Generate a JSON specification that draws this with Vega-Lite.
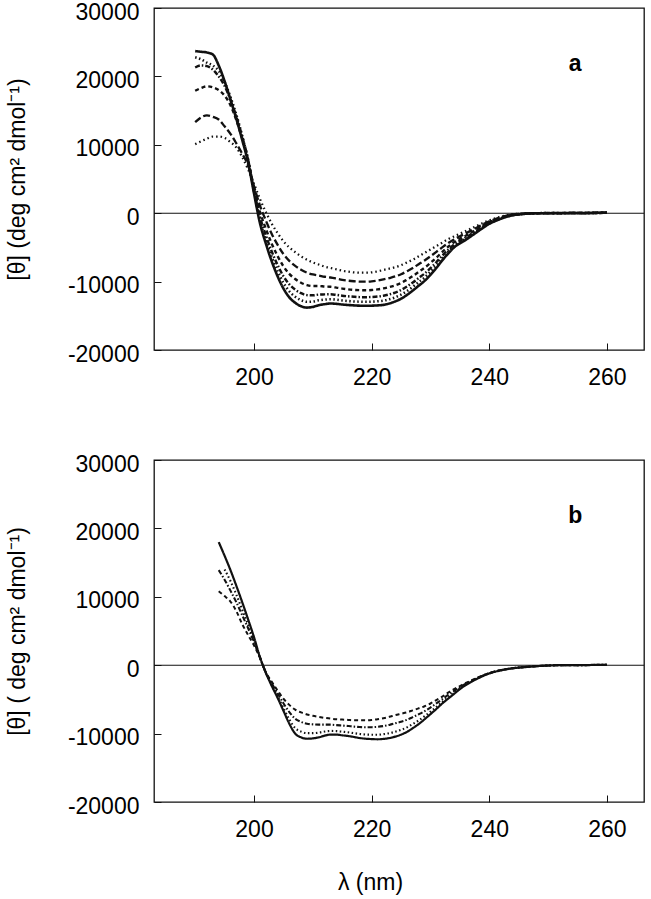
{
  "$schema": "https://vega.github.io/schema/vega-lite/v6.json",
  "padding": {"left": 5, "top": 0, "right": 8, "bottom": 2},
  "spacing": 62,
  "config": {
    "font": "Liberation Sans",
    "view": {"stroke": "#111", "strokeWidth": 1.3},
    "axis": {"grid": false, "domain": false, "tickColor": "#111", "tickSize": -7, "tickWidth": 1, "labelFont": "Liberation Sans", "labelFontSize": 23, "labelColor": "black", "titleFont": "Liberation Sans", "titleFontSize": 23, "titleFontWeight": "normal", "titleColor": "black"}
  },
  "datasets": {
    "a": [
      {"s":"c1","x":190,"y":23700},{"s":"c1","x":191,"y":23600},{"s":"c1","x":192,"y":23500},{"s":"c1","x":193,"y":23200},{"s":"c1","x":194,"y":21600},{"s":"c1","x":195,"y":19300},{"s":"c1","x":196,"y":16600},{"s":"c1","x":197,"y":13800},{"s":"c1","x":198,"y":10700},{"s":"c1","x":199,"y":7400},{"s":"c1","x":200,"y":2900},{"s":"c1","x":201,"y":-1400},{"s":"c1","x":202,"y":-4400},{"s":"c1","x":203,"y":-7000},{"s":"c1","x":204,"y":-9200},{"s":"c1","x":205,"y":-11000},{"s":"c1","x":206,"y":-12300},{"s":"c1","x":207,"y":-13100},{"s":"c1","x":208,"y":-13600},{"s":"c1","x":209,"y":-13800},{"s":"c1","x":210,"y":-13700},{"s":"c1","x":211,"y":-13450},{"s":"c1","x":212,"y":-13300},{"s":"c1","x":213,"y":-13200},{"s":"c1","x":214,"y":-13250},{"s":"c1","x":215,"y":-13350},{"s":"c1","x":216,"y":-13420},{"s":"c1","x":217,"y":-13480},{"s":"c1","x":218,"y":-13520},{"s":"c1","x":219,"y":-13540},{"s":"c1","x":220,"y":-13520},{"s":"c1","x":221,"y":-13480},{"s":"c1","x":222,"y":-13400},{"s":"c1","x":223,"y":-13200},{"s":"c1","x":224,"y":-12900},{"s":"c1","x":225,"y":-12500},{"s":"c1","x":226,"y":-11950},{"s":"c1","x":227,"y":-11300},{"s":"c1","x":228,"y":-10600},{"s":"c1","x":229,"y":-9900},{"s":"c1","x":230,"y":-9000},{"s":"c1","x":231,"y":-8000},{"s":"c1","x":232,"y":-6900},{"s":"c1","x":233,"y":-5900},{"s":"c1","x":234,"y":-5000},{"s":"c1","x":235,"y":-4400},{"s":"c1","x":236,"y":-3900},{"s":"c1","x":237,"y":-3300},{"s":"c1","x":238,"y":-2700},{"s":"c1","x":239,"y":-2100},{"s":"c1","x":240,"y":-1550},{"s":"c1","x":241,"y":-1150},{"s":"c1","x":242,"y":-800},{"s":"c1","x":243,"y":-500},{"s":"c1","x":244,"y":-300},{"s":"c1","x":246,"y":-100},{"s":"c1","x":248,"y":0},{"s":"c1","x":250,"y":0},{"s":"c1","x":252,"y":0},{"s":"c1","x":254,"y":50},{"s":"c1","x":256,"y":0},{"s":"c1","x":258,"y":50},{"s":"c1","x":260,"y":100},
      {"s":"c2","x":190,"y":22800},{"s":"c2","x":191,"y":22500},{"s":"c2","x":192,"y":22000},{"s":"c2","x":193,"y":21600},{"s":"c2","x":194,"y":20800},{"s":"c2","x":195,"y":19200},{"s":"c2","x":196,"y":17000},{"s":"c2","x":197,"y":14400},{"s":"c2","x":198,"y":11300},{"s":"c2","x":199,"y":7800},{"s":"c2","x":200,"y":3300},{"s":"c2","x":201,"y":-980},{"s":"c2","x":202,"y":-3850},{"s":"c2","x":203,"y":-6340},{"s":"c2","x":204,"y":-8440},{"s":"c2","x":205,"y":-10170},{"s":"c2","x":206,"y":-11420},{"s":"c2","x":207,"y":-12210},{"s":"c2","x":208,"y":-12720},{"s":"c2","x":209,"y":-12960},{"s":"c2","x":210,"y":-12920},{"s":"c2","x":211,"y":-12740},{"s":"c2","x":212,"y":-12640},{"s":"c2","x":213,"y":-12580},{"s":"c2","x":214,"y":-12640},{"s":"c2","x":215,"y":-12760},{"s":"c2","x":216,"y":-12840},{"s":"c2","x":217,"y":-12900},{"s":"c2","x":218,"y":-12940},{"s":"c2","x":219,"y":-12960},{"s":"c2","x":220,"y":-12940},{"s":"c2","x":221,"y":-12880},{"s":"c2","x":222,"y":-12790},{"s":"c2","x":223,"y":-12590},{"s":"c2","x":224,"y":-12300},{"s":"c2","x":225,"y":-11910},{"s":"c2","x":226,"y":-11380},{"s":"c2","x":227,"y":-10760},{"s":"c2","x":228,"y":-10080},{"s":"c2","x":229,"y":-9410},{"s":"c2","x":230,"y":-8560},{"s":"c2","x":231,"y":-7620},{"s":"c2","x":232,"y":-6590},{"s":"c2","x":233,"y":-5650},{"s":"c2","x":234,"y":-4810},{"s":"c2","x":235,"y":-4230},{"s":"c2","x":236,"y":-3740},{"s":"c2","x":237,"y":-3170},{"s":"c2","x":238,"y":-2590},{"s":"c2","x":239,"y":-2020},{"s":"c2","x":240,"y":-1490},{"s":"c2","x":241,"y":-1100},{"s":"c2","x":242,"y":-760},{"s":"c2","x":243,"y":-480},{"s":"c2","x":244,"y":-280},{"s":"c2","x":246,"y":-90},{"s":"c2","x":248,"y":0},{"s":"c2","x":250,"y":20},{"s":"c2","x":252,"y":0},{"s":"c2","x":254,"y":30},{"s":"c2","x":256,"y":20},{"s":"c2","x":258,"y":40},{"s":"c2","x":260,"y":80},
      {"s":"c3","x":190,"y":21300},{"s":"c3","x":191,"y":21600},{"s":"c3","x":192,"y":21500},{"s":"c3","x":193,"y":21000},{"s":"c3","x":194,"y":20000},{"s":"c3","x":195,"y":18600},{"s":"c3","x":196,"y":16600},{"s":"c3","x":197,"y":14100},{"s":"c3","x":198,"y":11200},{"s":"c3","x":199,"y":7800},{"s":"c3","x":200,"y":3260},{"s":"c3","x":201,"y":-490},{"s":"c3","x":202,"y":-3200},{"s":"c3","x":203,"y":-5570},{"s":"c3","x":204,"y":-7560},{"s":"c3","x":205,"y":-9210},{"s":"c3","x":206,"y":-10400},{"s":"c3","x":207,"y":-11180},{"s":"c3","x":208,"y":-11700},{"s":"c3","x":209,"y":-11980},{"s":"c3","x":210,"y":-12010},{"s":"c3","x":211,"y":-11900},{"s":"c3","x":212,"y":-11870},{"s":"c3","x":213,"y":-11850},{"s":"c3","x":214,"y":-11940},{"s":"c3","x":215,"y":-12060},{"s":"c3","x":216,"y":-12150},{"s":"c3","x":217,"y":-12220},{"s":"c3","x":218,"y":-12270},{"s":"c3","x":219,"y":-12280},{"s":"c3","x":220,"y":-12250},{"s":"c3","x":221,"y":-12190},{"s":"c3","x":222,"y":-12070},{"s":"c3","x":223,"y":-11870},{"s":"c3","x":224,"y":-11600},{"s":"c3","x":225,"y":-11230},{"s":"c3","x":226,"y":-10720},{"s":"c3","x":227,"y":-10130},{"s":"c3","x":228,"y":-9480},{"s":"c3","x":229,"y":-8830},{"s":"c3","x":230,"y":-8040},{"s":"c3","x":231,"y":-7170},{"s":"c3","x":232,"y":-6220},{"s":"c3","x":233,"y":-5350},{"s":"c3","x":234,"y":-4580},{"s":"c3","x":235,"y":-4040},{"s":"c3","x":236,"y":-3560},{"s":"c3","x":237,"y":-3010},{"s":"c3","x":238,"y":-2470},{"s":"c3","x":239,"y":-1920},{"s":"c3","x":240,"y":-1420},{"s":"c3","x":241,"y":-1050},{"s":"c3","x":242,"y":-720},{"s":"c3","x":243,"y":-450},{"s":"c3","x":244,"y":-260},{"s":"c3","x":246,"y":-90},{"s":"c3","x":248,"y":-20},{"s":"c3","x":250,"y":0},{"s":"c3","x":252,"y":30},{"s":"c3","x":254,"y":0},{"s":"c3","x":256,"y":40},{"s":"c3","x":258,"y":30},{"s":"c3","x":260,"y":60},
      {"s":"c4","x":190,"y":17900},{"s":"c4","x":191,"y":18300},{"s":"c4","x":192,"y":18550},{"s":"c4","x":193,"y":18400},{"s":"c4","x":194,"y":18000},{"s":"c4","x":195,"y":17200},{"s":"c4","x":196,"y":15800},{"s":"c4","x":197,"y":13600},{"s":"c4","x":198,"y":10900},{"s":"c4","x":199,"y":7800},{"s":"c4","x":200,"y":3560},{"s":"c4","x":201,"y":250},{"s":"c4","x":202,"y":-2240},{"s":"c4","x":203,"y":-4420},{"s":"c4","x":204,"y":-6240},{"s":"c4","x":205,"y":-7760},{"s":"c4","x":206,"y":-8870},{"s":"c4","x":207,"y":-9620},{"s":"c4","x":208,"y":-10170},{"s":"c4","x":209,"y":-10510},{"s":"c4","x":210,"y":-10650},{"s":"c4","x":211,"y":-10650},{"s":"c4","x":212,"y":-10720},{"s":"c4","x":213,"y":-10760},{"s":"c4","x":214,"y":-10880},{"s":"c4","x":215,"y":-11020},{"s":"c4","x":216,"y":-11130},{"s":"c4","x":217,"y":-11210},{"s":"c4","x":218,"y":-11250},{"s":"c4","x":219,"y":-11270},{"s":"c4","x":220,"y":-11230},{"s":"c4","x":221,"y":-11140},{"s":"c4","x":222,"y":-11000},{"s":"c4","x":223,"y":-10800},{"s":"c4","x":224,"y":-10550},{"s":"c4","x":225,"y":-10200},{"s":"c4","x":226,"y":-9720},{"s":"c4","x":227,"y":-9190},{"s":"c4","x":228,"y":-8580},{"s":"c4","x":229,"y":-7970},{"s":"c4","x":230,"y":-7260},{"s":"c4","x":231,"y":-6500},{"s":"c4","x":232,"y":-5680},{"s":"c4","x":233,"y":-4910},{"s":"c4","x":234,"y":-4250},{"s":"c4","x":235,"y":-3740},{"s":"c4","x":236,"y":-3290},{"s":"c4","x":237,"y":-2780},{"s":"c4","x":238,"y":-2280},{"s":"c4","x":239,"y":-1770},{"s":"c4","x":240,"y":-1320},{"s":"c4","x":241,"y":-960},{"s":"c4","x":242,"y":-660},{"s":"c4","x":243,"y":-410},{"s":"c4","x":244,"y":-230},{"s":"c4","x":246,"y":-80},{"s":"c4","x":248,"y":0},{"s":"c4","x":250,"y":30},{"s":"c4","x":252,"y":0},{"s":"c4","x":254,"y":20},{"s":"c4","x":256,"y":50},{"s":"c4","x":258,"y":30},{"s":"c4","x":260,"y":80},
      {"s":"c5","x":190,"y":13300},{"s":"c5","x":191,"y":14000},{"s":"c5","x":192,"y":14300},{"s":"c5","x":193,"y":14100},{"s":"c5","x":194,"y":13700},{"s":"c5","x":195,"y":12700},{"s":"c5","x":196,"y":11600},{"s":"c5","x":197,"y":10200},{"s":"c5","x":198,"y":8700},{"s":"c5","x":199,"y":7000},{"s":"c5","x":200,"y":3920},{"s":"c5","x":201,"y":1160},{"s":"c5","x":202,"y":-1040},{"s":"c5","x":203,"y":-2990},{"s":"c5","x":204,"y":-4600},{"s":"c5","x":205,"y":-5960},{"s":"c5","x":206,"y":-6970},{"s":"c5","x":207,"y":-7700},{"s":"c5","x":208,"y":-8270},{"s":"c5","x":209,"y":-8690},{"s":"c5","x":210,"y":-8960},{"s":"c5","x":211,"y":-9110},{"s":"c5","x":212,"y":-9290},{"s":"c5","x":213,"y":-9400},{"s":"c5","x":214,"y":-9560},{"s":"c5","x":215,"y":-9740},{"s":"c5","x":216,"y":-9870},{"s":"c5","x":217,"y":-9950},{"s":"c5","x":218,"y":-10000},{"s":"c5","x":219,"y":-10010},{"s":"c5","x":220,"y":-9960},{"s":"c5","x":221,"y":-9840},{"s":"c5","x":222,"y":-9680},{"s":"c5","x":223,"y":-9480},{"s":"c5","x":224,"y":-9250},{"s":"c5","x":225,"y":-8920},{"s":"c5","x":226,"y":-8480},{"s":"c5","x":227,"y":-8020},{"s":"c5","x":228,"y":-7460},{"s":"c5","x":229,"y":-6910},{"s":"c5","x":230,"y":-6300},{"s":"c5","x":231,"y":-5660},{"s":"c5","x":232,"y":-5000},{"s":"c5","x":233,"y":-4370},{"s":"c5","x":234,"y":-3830},{"s":"c5","x":235,"y":-3380},{"s":"c5","x":236,"y":-2950},{"s":"c5","x":237,"y":-2500},{"s":"c5","x":238,"y":-2040},{"s":"c5","x":239,"y":-1590},{"s":"c5","x":240,"y":-1190},{"s":"c5","x":241,"y":-860},{"s":"c5","x":242,"y":-580},{"s":"c5","x":243,"y":-350},{"s":"c5","x":244,"y":-190},{"s":"c5","x":246,"y":-60},{"s":"c5","x":248,"y":0},{"s":"c5","x":250,"y":20},{"s":"c5","x":252,"y":40},{"s":"c5","x":254,"y":0},{"s":"c5","x":256,"y":30},{"s":"c5","x":258,"y":60},{"s":"c5","x":260,"y":50},
      {"s":"c6","x":190,"y":10100},{"s":"c6","x":191,"y":10500},{"s":"c6","x":192,"y":10900},{"s":"c6","x":193,"y":11200},{"s":"c6","x":194,"y":11200},{"s":"c6","x":195,"y":11000},{"s":"c6","x":196,"y":10400},{"s":"c6","x":197,"y":9600},{"s":"c6","x":198,"y":8200},{"s":"c6","x":199,"y":6400},{"s":"c6","x":200,"y":4300},{"s":"c6","x":201,"y":2100},{"s":"c6","x":202,"y":200},{"s":"c6","x":203,"y":-1500},{"s":"c6","x":204,"y":-2900},{"s":"c6","x":205,"y":-4100},{"s":"c6","x":206,"y":-5000},{"s":"c6","x":207,"y":-5700},{"s":"c6","x":208,"y":-6300},{"s":"c6","x":209,"y":-6800},{"s":"c6","x":210,"y":-7200},{"s":"c6","x":211,"y":-7500},{"s":"c6","x":212,"y":-7800},{"s":"c6","x":213,"y":-8000},{"s":"c6","x":214,"y":-8200},{"s":"c6","x":215,"y":-8400},{"s":"c6","x":216,"y":-8550},{"s":"c6","x":217,"y":-8650},{"s":"c6","x":218,"y":-8700},{"s":"c6","x":219,"y":-8700},{"s":"c6","x":220,"y":-8650},{"s":"c6","x":221,"y":-8500},{"s":"c6","x":222,"y":-8300},{"s":"c6","x":223,"y":-8100},{"s":"c6","x":224,"y":-7900},{"s":"c6","x":225,"y":-7600},{"s":"c6","x":226,"y":-7200},{"s":"c6","x":227,"y":-6800},{"s":"c6","x":228,"y":-6300},{"s":"c6","x":229,"y":-5800},{"s":"c6","x":230,"y":-5300},{"s":"c6","x":231,"y":-4800},{"s":"c6","x":232,"y":-4300},{"s":"c6","x":233,"y":-3800},{"s":"c6","x":234,"y":-3400},{"s":"c6","x":235,"y":-3000},{"s":"c6","x":236,"y":-2600},{"s":"c6","x":237,"y":-2200},{"s":"c6","x":238,"y":-1800},{"s":"c6","x":239,"y":-1400},{"s":"c6","x":240,"y":-1050},{"s":"c6","x":241,"y":-750},{"s":"c6","x":242,"y":-500},{"s":"c6","x":243,"y":-300},{"s":"c6","x":244,"y":-150},{"s":"c6","x":246,"y":-50},{"s":"c6","x":248,"y":0},{"s":"c6","x":250,"y":30},{"s":"c6","x":252,"y":0},{"s":"c6","x":254,"y":50},{"s":"c6","x":256,"y":20},{"s":"c6","x":258,"y":60},{"s":"c6","x":260,"y":100}
    ],
    "b": [
      {"s":"b1","x":194,"y":18000},{"s":"b1","x":195,"y":16000},{"s":"b1","x":196,"y":13900},{"s":"b1","x":197,"y":11600},{"s":"b1","x":198,"y":9200},{"s":"b1","x":199,"y":6700},{"s":"b1","x":200,"y":4100},{"s":"b1","x":201,"y":1200},{"s":"b1","x":202,"y":-1100},{"s":"b1","x":203,"y":-3000},{"s":"b1","x":204,"y":-4750},{"s":"b1","x":205,"y":-6650},{"s":"b1","x":206,"y":-8550},{"s":"b1","x":207,"y":-10000},{"s":"b1","x":208,"y":-10550},{"s":"b1","x":209,"y":-10750},{"s":"b1","x":210,"y":-10700},{"s":"b1","x":211,"y":-10550},{"s":"b1","x":212,"y":-10300},{"s":"b1","x":213,"y":-10150},{"s":"b1","x":214,"y":-10150},{"s":"b1","x":215,"y":-10250},{"s":"b1","x":216,"y":-10350},{"s":"b1","x":217,"y":-10500},{"s":"b1","x":218,"y":-10650},{"s":"b1","x":219,"y":-10750},{"s":"b1","x":220,"y":-10800},{"s":"b1","x":221,"y":-10830},{"s":"b1","x":222,"y":-10780},{"s":"b1","x":223,"y":-10650},{"s":"b1","x":224,"y":-10450},{"s":"b1","x":225,"y":-10150},{"s":"b1","x":226,"y":-9750},{"s":"b1","x":227,"y":-9200},{"s":"b1","x":228,"y":-8600},{"s":"b1","x":229,"y":-7900},{"s":"b1","x":230,"y":-7150},{"s":"b1","x":231,"y":-6400},{"s":"b1","x":232,"y":-5600},{"s":"b1","x":233,"y":-4900},{"s":"b1","x":234,"y":-4200},{"s":"b1","x":235,"y":-3500},{"s":"b1","x":236,"y":-2900},{"s":"b1","x":237,"y":-2400},{"s":"b1","x":238,"y":-1950},{"s":"b1","x":239,"y":-1550},{"s":"b1","x":240,"y":-1200},{"s":"b1","x":241,"y":-950},{"s":"b1","x":242,"y":-750},{"s":"b1","x":243,"y":-580},{"s":"b1","x":244,"y":-450},{"s":"b1","x":246,"y":-290},{"s":"b1","x":248,"y":-150},{"s":"b1","x":250,"y":-50},{"s":"b1","x":252,"y":0},{"s":"b1","x":254,"y":0},{"s":"b1","x":256,"y":0},{"s":"b1","x":258,"y":50},{"s":"b1","x":260,"y":50},
      {"s":"b2","x":195,"y":14000},{"s":"b2","x":196,"y":12300},{"s":"b2","x":197,"y":10300},{"s":"b2","x":198,"y":8100},{"s":"b2","x":199,"y":5900},{"s":"b2","x":200,"y":3600},{"s":"b2","x":201,"y":1100},{"s":"b2","x":202,"y":-1080},{"s":"b2","x":203,"y":-2860},{"s":"b2","x":204,"y":-4510},{"s":"b2","x":205,"y":-6250},{"s":"b2","x":206,"y":-7920},{"s":"b2","x":207,"y":-9200},{"s":"b2","x":208,"y":-9710},{"s":"b2","x":209,"y":-9930},{"s":"b2","x":210,"y":-9940},{"s":"b2","x":211,"y":-9860},{"s":"b2","x":212,"y":-9700},{"s":"b2","x":213,"y":-9610},{"s":"b2","x":214,"y":-9630},{"s":"b2","x":215,"y":-9720},{"s":"b2","x":216,"y":-9810},{"s":"b2","x":217,"y":-9940},{"s":"b2","x":218,"y":-10050},{"s":"b2","x":219,"y":-10130},{"s":"b2","x":220,"y":-10160},{"s":"b2","x":221,"y":-10160},{"s":"b2","x":222,"y":-10080},{"s":"b2","x":223,"y":-9940},{"s":"b2","x":224,"y":-9730},{"s":"b2","x":225,"y":-9450},{"s":"b2","x":226,"y":-9090},{"s":"b2","x":227,"y":-8600},{"s":"b2","x":228,"y":-8070},{"s":"b2","x":229,"y":-7460},{"s":"b2","x":230,"y":-6790},{"s":"b2","x":231,"y":-6100},{"s":"b2","x":232,"y":-5370},{"s":"b2","x":233,"y":-4690},{"s":"b2","x":234,"y":-4040},{"s":"b2","x":235,"y":-3400},{"s":"b2","x":236,"y":-2830},{"s":"b2","x":237,"y":-2350},{"s":"b2","x":238,"y":-1920},{"s":"b2","x":239,"y":-1530},{"s":"b2","x":240,"y":-1190},{"s":"b2","x":241,"y":-940},{"s":"b2","x":242,"y":-740},{"s":"b2","x":243,"y":-570},{"s":"b2","x":244,"y":-450},{"s":"b2","x":246,"y":-280},{"s":"b2","x":248,"y":-140},{"s":"b2","x":250,"y":-50},{"s":"b2","x":252,"y":0},{"s":"b2","x":254,"y":10},{"s":"b2","x":256,"y":0},{"s":"b2","x":258,"y":40},{"s":"b2","x":260,"y":50},
      {"s":"b3","x":194,"y":13900},{"s":"b3","x":195,"y":12500},{"s":"b3","x":196,"y":10900},{"s":"b3","x":197,"y":9200},{"s":"b3","x":198,"y":7300},{"s":"b3","x":199,"y":5400},{"s":"b3","x":200,"y":3400},{"s":"b3","x":201,"y":1200},{"s":"b3","x":202,"y":-1040},{"s":"b3","x":203,"y":-2630},{"s":"b3","x":204,"y":-4100},{"s":"b3","x":205,"y":-5560},{"s":"b3","x":206,"y":-6850},{"s":"b3","x":207,"y":-7830},{"s":"b3","x":208,"y":-8290},{"s":"b3","x":209,"y":-8550},{"s":"b3","x":210,"y":-8650},{"s":"b3","x":211,"y":-8690},{"s":"b3","x":212,"y":-8690},{"s":"b3","x":213,"y":-8690},{"s":"b3","x":214,"y":-8760},{"s":"b3","x":215,"y":-8820},{"s":"b3","x":216,"y":-8890},{"s":"b3","x":217,"y":-8980},{"s":"b3","x":218,"y":-9040},{"s":"b3","x":219,"y":-9080},{"s":"b3","x":220,"y":-9060},{"s":"b3","x":221,"y":-9010},{"s":"b3","x":222,"y":-8900},{"s":"b3","x":223,"y":-8730},{"s":"b3","x":224,"y":-8500},{"s":"b3","x":225,"y":-8260},{"s":"b3","x":226,"y":-7980},{"s":"b3","x":227,"y":-7590},{"s":"b3","x":228,"y":-7170},{"s":"b3","x":229,"y":-6720},{"s":"b3","x":230,"y":-6190},{"s":"b3","x":231,"y":-5590},{"s":"b3","x":232,"y":-4980},{"s":"b3","x":233,"y":-4340},{"s":"b3","x":234,"y":-3770},{"s":"b3","x":235,"y":-3220},{"s":"b3","x":236,"y":-2710},{"s":"b3","x":237,"y":-2280},{"s":"b3","x":238,"y":-1860},{"s":"b3","x":239,"y":-1490},{"s":"b3","x":240,"y":-1170},{"s":"b3","x":241,"y":-920},{"s":"b3","x":242,"y":-720},{"s":"b3","x":243,"y":-560},{"s":"b3","x":244,"y":-440},{"s":"b3","x":246,"y":-270},{"s":"b3","x":248,"y":-140},{"s":"b3","x":250,"y":-40},{"s":"b3","x":252,"y":0},{"s":"b3","x":254,"y":20},{"s":"b3","x":256,"y":10},{"s":"b3","x":258,"y":40},{"s":"b3","x":260,"y":50},
      {"s":"b4","x":194,"y":10800},{"s":"b4","x":195,"y":10100},{"s":"b4","x":196,"y":9300},{"s":"b4","x":197,"y":7900},{"s":"b4","x":198,"y":6000},{"s":"b4","x":199,"y":4400},{"s":"b4","x":200,"y":2900},{"s":"b4","x":201,"y":1100},{"s":"b4","x":202,"y":-1000},{"s":"b4","x":203,"y":-2400},{"s":"b4","x":204,"y":-3700},{"s":"b4","x":205,"y":-4900},{"s":"b4","x":206,"y":-5800},{"s":"b4","x":207,"y":-6500},{"s":"b4","x":208,"y":-6900},{"s":"b4","x":209,"y":-7200},{"s":"b4","x":210,"y":-7400},{"s":"b4","x":211,"y":-7550},{"s":"b4","x":212,"y":-7700},{"s":"b4","x":213,"y":-7800},{"s":"b4","x":214,"y":-7900},{"s":"b4","x":215,"y":-7950},{"s":"b4","x":216,"y":-8000},{"s":"b4","x":217,"y":-8050},{"s":"b4","x":218,"y":-8050},{"s":"b4","x":219,"y":-8050},{"s":"b4","x":220,"y":-8000},{"s":"b4","x":221,"y":-7900},{"s":"b4","x":222,"y":-7750},{"s":"b4","x":223,"y":-7550},{"s":"b4","x":224,"y":-7300},{"s":"b4","x":225,"y":-7100},{"s":"b4","x":226,"y":-6900},{"s":"b4","x":227,"y":-6600},{"s":"b4","x":228,"y":-6300},{"s":"b4","x":229,"y":-6000},{"s":"b4","x":230,"y":-5600},{"s":"b4","x":231,"y":-5100},{"s":"b4","x":232,"y":-4600},{"s":"b4","x":233,"y":-4000},{"s":"b4","x":234,"y":-3500},{"s":"b4","x":235,"y":-3050},{"s":"b4","x":236,"y":-2600},{"s":"b4","x":237,"y":-2200},{"s":"b4","x":238,"y":-1800},{"s":"b4","x":239,"y":-1450},{"s":"b4","x":240,"y":-1150},{"s":"b4","x":241,"y":-900},{"s":"b4","x":242,"y":-700},{"s":"b4","x":243,"y":-550},{"s":"b4","x":244,"y":-430},{"s":"b4","x":246,"y":-260},{"s":"b4","x":248,"y":-130},{"s":"b4","x":250,"y":-40},{"s":"b4","x":252,"y":0},{"s":"b4","x":254,"y":0},{"s":"b4","x":256,"y":20},{"s":"b4","x":258,"y":30},{"s":"b4","x":260,"y":50}
    ]
  },
  "vconcat": [
    {
      "width": 490, "height": 342,
      "layer": [
        {
          "data": {"values": [{"y": 0}]},
          "mark": {"type": "rule", "color": "#111", "strokeWidth": 1.1},
          "encoding": {"y": {"field": "y", "type": "quantitative", "scale": {"domain": [-20000, 30000], "nice": false}}}
        },
        {
          "data": {"name": "a"},
          "mark": {"type": "line", "color": "#111", "interpolate": "monotone"},
          "encoding": {
            "x": {"field": "x", "type": "quantitative", "scale": {"domain": [183, 266.3], "nice": false, "zero": false},
                  "axis": {"values": [200, 220, 240, 260], "title": null, "labelPadding": 23, "format": "d"}},
            "y": {"field": "y", "type": "quantitative", "scale": {"domain": [-20000, 30000], "nice": false},
                  "axis": {"values": [-20000, -15000, -10000, -5000, 0, 5000, 10000, 15000, 20000, 25000, 30000],
                           "labelExpr": "datum.value % 10000 === 0 ? '' + datum.value : ''",
                           "labelPadding": 22, "labelOffset": 4,
                           "title": "[θ] (deg cm² dmol⁻¹)", "titleX": -137, "titleBaseline": "middle"}},
            "detail": {"field": "s", "type": "nominal"},
            "strokeDash": {"field": "s", "type": "nominal", "legend": null,
                           "scale": {"domain": ["c1","c2","c3","c4","c5","c6"], "range": [[1,0],[1.5,2.5],[5,2,1.5,2],[4,3],[7,3],[1.5,3]]}},
            "strokeWidth": {"field": "s", "type": "nominal", "legend": null,
                            "scale": {"domain": ["c1","c2","c3","c4","c5","c6"], "range": [2.6, 2, 2, 2.2, 2, 1.8]}}
          }
        },
        {
          "data": {"values": [{"x": 254.6, "y": 21870, "t": "a"}]},
          "mark": {"type": "text", "fontSize": 23, "fontWeight": "bold", "color": "black", "align": "center", "baseline": "middle"},
          "encoding": {
            "x": {"field": "x", "type": "quantitative"},
            "y": {"field": "y", "type": "quantitative"},
            "text": {"field": "t"}
          }
        }
      ]
    },
    {
      "width": 490, "height": 342,
      "layer": [
        {
          "data": {"values": [{"y": 0}]},
          "mark": {"type": "rule", "color": "#111", "strokeWidth": 1.1},
          "encoding": {"y": {"field": "y", "type": "quantitative", "scale": {"domain": [-20000, 30000], "nice": false}}}
        },
        {
          "data": {"name": "b"},
          "mark": {"type": "line", "color": "#111", "interpolate": "monotone"},
          "encoding": {
            "x": {"field": "x", "type": "quantitative", "scale": {"domain": [183, 266.3], "nice": false, "zero": false},
                  "axis": {"values": [200, 220, 240, 260], "title": "λ (nm)", "labelPadding": 23, "format": "d",
                           "titleX": 216, "titleY": 87, "titleBaseline": "alphabetic", "titleAlign": "center"}},
            "y": {"field": "y", "type": "quantitative", "scale": {"domain": [-20000, 30000], "nice": false},
                  "axis": {"values": [-20000, -15000, -10000, -5000, 0, 5000, 10000, 15000, 20000, 25000, 30000],
                           "labelExpr": "datum.value % 10000 === 0 ? '' + datum.value : ''",
                           "labelPadding": 22, "labelOffset": 4,
                           "title": "[θ] ( deg cm² dmol⁻¹)", "titleX": -137, "titleBaseline": "middle"}},
            "detail": {"field": "s", "type": "nominal"},
            "strokeDash": {"field": "s", "type": "nominal", "legend": null,
                           "scale": {"domain": ["b1","b2","b3","b4"], "range": [[1,0],[1.5,2.5],[5,2,1.5,2],[5,3]]}},
            "strokeWidth": {"field": "s", "type": "nominal", "legend": null,
                            "scale": {"domain": ["b1","b2","b3","b4"], "range": [2.6, 2, 2, 2.2]}}
          }
        },
        {
          "data": {"values": [{"x": 254.6, "y": 21870, "t": "b"}]},
          "mark": {"type": "text", "fontSize": 23, "fontWeight": "bold", "color": "black", "align": "center", "baseline": "middle"},
          "encoding": {
            "x": {"field": "x", "type": "quantitative"},
            "y": {"field": "y", "type": "quantitative"},
            "text": {"field": "t"}
          }
        }
      ]
    }
  ]
}
